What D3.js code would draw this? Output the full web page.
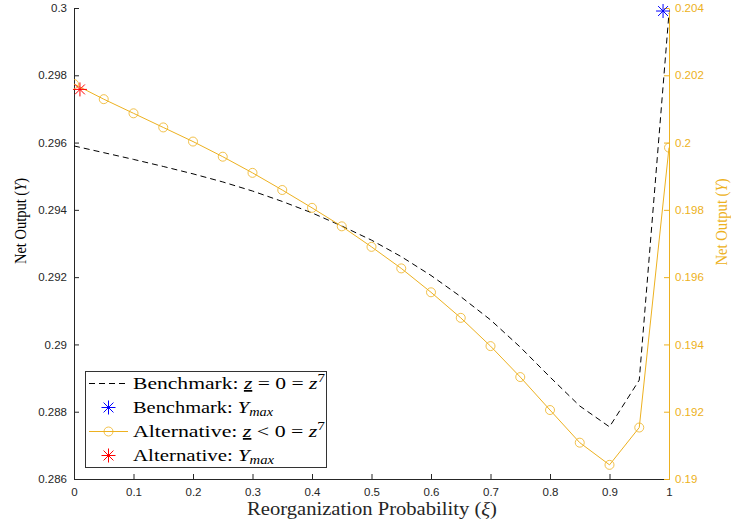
<!DOCTYPE html>
<html>
<head>
<meta charset="utf-8">
<script src="https://cdn.jsdelivr.net/npm/d3@7/dist/d3.min.js"></script>
<style>
  html, body { margin: 0; padding: 0; background: #fff; }
  svg { display: block; }
  .tick text { font-family: "Liberation Sans", Arial, sans-serif; font-size: 11.5px; }
  .tex { font-family: "Liberation Serif", "DejaVu Serif", serif; }
</style>
</head>
<body>
<svg id="chart" width="731" height="529"></svg>
<script>
// Reorganization probability grid
const xi = [0, 0.05, 0.1, 0.15, 0.2, 0.25, 0.3, 0.35, 0.4, 0.45, 0.5,
            0.55, 0.6, 0.65, 0.7, 0.75, 0.8, 0.85, 0.9, 0.95, 1];

// Benchmark net output (left axis)
const benchmark = [0.29590, 0.29570, 0.29550, 0.29529, 0.29507, 0.29483, 0.29456,
                   0.29425, 0.29391, 0.29352, 0.29310, 0.29261, 0.29205, 0.29142,
                   0.29073, 0.28992, 0.28903, 0.28817, 0.28755, 0.28894, 0.29985];

// Alternative net output (right axis)
const alternative = [0.20174, 0.20129, 0.20087, 0.20045, 0.20003, 0.19958, 0.19910,
                     0.19859, 0.19806, 0.19751, 0.19690, 0.19626, 0.19555, 0.19479,
                     0.19395, 0.19303, 0.19205, 0.19108, 0.19042, 0.19153, 0.19985];

// Maxima markers
const benchMax = { xi: 0.99, y: 0.29991 };
const altMax = { xi: 0.01, y: 0.20158 };

// Tick values
const xTicks = [0, 0.1, 0.2, 0.3, 0.4, 0.5, 0.6, 0.7, 0.8, 0.9, 1];
const yLeftTicks = [0.286, 0.288, 0.29, 0.292, 0.294, 0.296, 0.298, 0.3];
const yRightTicks = [0.19, 0.192, 0.194, 0.196, 0.198, 0.2, 0.202, 0.204];

const ORANGE = "#EDB120";
const AXIS = "#262626";

const svg = d3.select("#chart");
const L = 74, R = 669, T = 8, B = 479;

const x = d3.scaleLinear().domain([0, 1]).range([L, R]);
const yL = d3.scaleLinear().domain([0.286, 0.3]).range([B, T]);
const yR = d3.scaleLinear().domain([0.19, 0.204]).range([B, T]);

svg.append("defs").append("clipPath").attr("id", "plotClip")
  .append("rect").attr("x", L).attr("y", T).attr("width", R - L).attr("height", B - T);

// Axes
const fmt = d => String(d);
const gx = svg.append("g").attr("transform", `translate(0,${B})`)
  .call(d3.axisBottom(x).tickValues(xTicks).tickFormat(fmt).tickSizeInner(-5).tickSizeOuter(0).tickPadding(9));
gx.select(".domain").attr("stroke", AXIS);
gx.selectAll(".tick line").attr("stroke", AXIS);
gx.selectAll(".tick text").attr("fill", AXIS);

const gl = svg.append("g").attr("transform", `translate(${L},0)`)
  .call(d3.axisLeft(yL).tickValues(yLeftTicks).tickFormat(fmt).tickSizeInner(-5).tickSizeOuter(0).tickPadding(7));
gl.select(".domain").attr("stroke", AXIS);
gl.selectAll(".tick line").attr("stroke", AXIS);
gl.selectAll(".tick text").attr("fill", AXIS);

const gr = svg.append("g").attr("transform", `translate(${R},0)`)
  .call(d3.axisRight(yR).tickValues(yRightTicks).tickFormat(fmt).tickSizeInner(-5).tickSizeOuter(0).tickPadding(6));
gr.select(".domain").attr("stroke", ORANGE);
gr.selectAll(".tick line").attr("stroke", ORANGE);
gr.selectAll(".tick text").attr("fill", ORANGE);

// Text with italic / underlined / raised or lowered runs, optionally stretched to a set width
function texLabel(g, parts, size, width) {
  const t = g.append("text").attr("class", "tex").attr("font-size", size);
  parts.forEach(p => {
    const s = t.append("tspan").text(p.t);
    if (p.i) s.attr("font-style", "italic");
    if (p.sub) s.attr("font-size", size * 0.7);
    if (p.dy) s.attr("dy", p.dy);
    if (p.u) s.attr("text-decoration", "underline");
  });
  if (width) t.attr("textLength", width).attr("lengthAdjust", "spacingAndGlyphs");
  return t;
}

texLabel(svg.append("g").attr("transform", `translate(372,515)`),
  [{ t: "Reorganization Probability (" }, { t: "ξ", i: true }, { t: ")" }], 18, 250)
  .attr("text-anchor", "middle").attr("fill", AXIS);

texLabel(svg.append("g").attr("transform", `translate(26,221) rotate(-90)`),
  [{ t: "Net Output (" }, { t: "Y", i: true }, { t: ")" }], 16, 86)
  .attr("text-anchor", "middle").attr("fill", "#000");

texLabel(svg.append("g").attr("transform", `translate(727,222) rotate(-90)`),
  [{ t: "Net Output (" }, { t: "Y", i: true }, { t: ")" }], 16, 87)
  .attr("text-anchor", "middle").attr("fill", ORANGE);

// Series
const plot = svg.append("g").attr("clip-path", "url(#plotClip)");

plot.append("path")
  .datum(xi.map((v, i) => [v, benchmark[i]]))
  .attr("fill", "none").attr("stroke", "#000").attr("stroke-width", 1)
  .attr("stroke-dasharray", "6,4")
  .attr("d", d3.line().x(d => x(d[0])).y(d => yL(d[1])));

plot.append("path")
  .datum(xi.map((v, i) => [v, alternative[i]]))
  .attr("fill", "none").attr("stroke", ORANGE).attr("stroke-width", 1)
  .attr("d", d3.line().x(d => x(d[0])).y(d => yR(d[1])));

plot.selectAll("circle.alt")
  .data(xi.map((v, i) => [v, alternative[i]]))
  .join("circle").attr("class", "alt")
  .attr("cx", d => x(d[0])).attr("cy", d => yR(d[1])).attr("r", 4.5)
  .attr("fill", "none").attr("stroke", ORANGE).attr("stroke-width", 0.8);

// Asterisk marker
function star(g, cx, cy, color, r) {
  const s = g.append("g").attr("transform", `translate(${cx},${cy})`)
    .attr("stroke", color).attr("stroke-width", 1);
  const d = r * Math.SQRT1_2;
  s.append("line").attr("x1", -r).attr("x2", r).attr("y1", 0).attr("y2", 0);
  s.append("line").attr("x1", 0).attr("x2", 0).attr("y1", -r).attr("y2", r);
  s.append("line").attr("x1", -d).attr("x2", d).attr("y1", -d).attr("y2", d);
  s.append("line").attr("x1", -d).attr("x2", d).attr("y1", d).attr("y2", -d);
}
star(svg, x(benchMax.xi), yL(benchMax.y), "#0000FF", 7);
star(svg, x(altMax.xi), yR(altMax.y), "#FF0000", 7);

// Legend
const lg = svg.append("g");
lg.append("rect").attr("x", 85.5).attr("y", 371.5).attr("width", 241).attr("height", 96)
  .attr("fill", "#fff").attr("stroke", "#333").attr("stroke-width", 1);

const rows = [383.5, 407.5, 431.5, 455.5];
const sx1 = 89, sx2 = 128, sxm = 108.5, tx = 133, fs = 17.5;

lg.append("line").attr("x1", sx1).attr("x2", sx2).attr("y1", rows[0]).attr("y2", rows[0])
  .attr("stroke", "#000").attr("stroke-dasharray", "6,4");
star(lg, sxm, rows[1], "#0000FF", 7);
lg.append("line").attr("x1", sx1).attr("x2", sx2).attr("y1", rows[2]).attr("y2", rows[2])
  .attr("stroke", ORANGE);
lg.append("circle").attr("cx", sxm).attr("cy", rows[2]).attr("r", 4.5)
  .attr("fill", "none").attr("stroke", ORANGE).attr("stroke-width", 0.8);
star(lg, sxm, rows[3], "#FF0000", 7);

const legendTexts = [
  [{ t: "Benchmark: " }, { t: "z", i: true, u: true }, { t: " = 0 = " }, { t: "z", i: true },
   { t: "7", sub: true, dy: -7 }],
  [{ t: "Benchmark: " }, { t: "Y", i: true }, { t: "max", i: true, sub: true, dy: 3 }],
  [{ t: "Alternative: " }, { t: "z", i: true, u: true }, { t: " < 0 = " }, { t: "z", i: true },
   { t: "7", sub: true, dy: -7 }],
  [{ t: "Alternative: " }, { t: "Y", i: true }, { t: "max", i: true, sub: true, dy: 3 }]
];
const legendWidths = [192, 140, 192, 141];
legendTexts.forEach((parts, i) => {
  texLabel(lg.append("g").attr("transform", `translate(${tx},${rows[i] + 5.5})`), parts, fs, legendWidths[i])
    .attr("fill", "#000");
});
</script>
</body>
</html>
